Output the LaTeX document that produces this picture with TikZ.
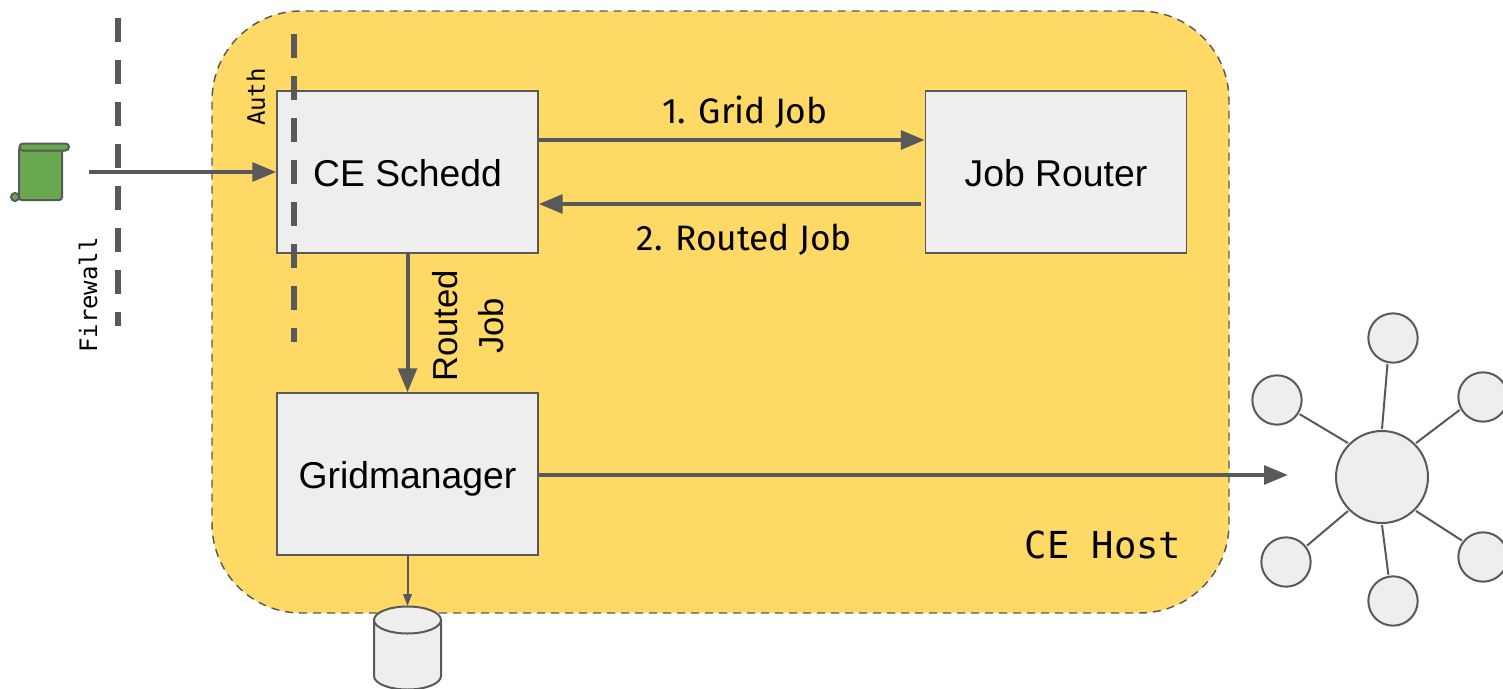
\documentclass[tikz,border=0pt]{standalone}
\usepackage{fontspec}
\usepackage{tikz}
\setmainfont{Liberation Sans}
\newfontfamily\labelfont{Fira Sans}
\newfontfamily\codefont{DejaVu Sans Mono}
\usetikzlibrary{arrows.meta}

\definecolor{hostyellow}{HTML}{FFD966}
\definecolor{boxgrey}{HTML}{EEEEEE}
\definecolor{linegrey}{HTML}{595959}
\definecolor{scrollgreen}{HTML}{6AA84F}

\tikzset{
	host/.style={draw=linegrey, fill=hostyellow, line width=1.1pt, dash pattern=on 6pt off 4.5pt, rounded corners=67pt, minimum width=762.75pt, minimum height=451.5pt, inner sep=0pt},
	daemon/.style={draw=linegrey, fill=boxgrey, line width=1.1pt, minimum width=195.75pt, minimum height=121.5pt, inner sep=0pt, text height=24pt, text depth=3pt, font=\fontsize{28pt}{32pt}\selectfont},
	hubnode/.style={circle, draw=linegrey, fill=boxgrey, line width=1.5pt, minimum size=69pt, inner sep=0pt, outer sep=1.5pt},
	satnode/.style={circle, draw=linegrey, fill=boxgrey, line width=1.5pt, minimum size=37pt, inner sep=0pt, outer sep=1.5pt},
	flow/.style={draw=linegrey, line width=3pt, -{Triangle[length=18pt, width=14pt]}},
	thinflow/.style={draw=linegrey, line width=1.5pt, -{Triangle[length=9pt, width=6.5pt]}},
	spoke/.style={draw=linegrey, line width=1.5pt},
	barrier/.style={draw=linegrey, line width=4.5pt, dash pattern=on 18pt off 13.5pt},
	scrollpart/.style={draw=linegrey, fill=scrollgreen, line width=1.5pt},
	flowlabel/.style={font=\labelfont\fontsize{26.5pt}{30pt}\selectfont},
	codelabel/.style={font=\codefont\fontsize{18pt}{20pt}\selectfont, rotate=90}
}

\begin{document}
\begin{tikzpicture}[x=0.75pt, y=-0.75pt]
\useasboundingbox (0,0) rectangle (1503,689);

\node[host] (host) at (720.5,312) {};
\node[font=\codefont\fontsize{27.9pt}{32pt}\selectfont] (hostlabel) at (1103,545) {CE Host};

\node[daemon] (schedd) at (407.5,172) {CE Schedd};
\node[daemon] (router) at (1056,172) {Job Router};
\node[daemon] (gridman) at (407.5,474) {Gridmanager};

% firewall and auth lines
\coordinate (fwtop) at (118,18);
\coordinate (fwbot) at (118,326);
\coordinate (authtop) at (294,34);
\coordinate (authbot) at (294,342);
\draw[barrier] (fwtop) -- (fwbot);
\draw[barrier] (authtop) -- (authbot);
\node[codelabel] (fwlabel) at (88,295) {Firewall};
\node[codelabel] (authlabel) at (256,97) {Auth};

% job scroll
\coordinate (scroll) at (89,172);
\draw[scrollpart, rounded corners=2pt] (19,147) -- (19,200) -- (62,200) -- (62,148) -- cycle;
\draw[scrollpart] (23,143.5) -- (65.5,143.5) arc (-90:90:3.5) -- (23,150.5) arc (90:270:3.5) -- cycle;
\draw[scrollpart] (15,197) circle (4);

\draw[flow] (scroll) -- (schedd.west);
\draw[flow] ([yshift=24pt]schedd.east) -- node[flowlabel, above=4pt, xshift=10pt] (gridjob) {1. Grid Job} ([yshift=24pt]router.west);
\draw[flow] ([yshift=-24pt, xshift=-3pt]router.west) -- node[flowlabel, below=10.5pt, xshift=11pt] (routedjob) {2. Routed Job} ([yshift=-24pt]schedd.east);
\draw[flow] (schedd.south) -- (gridman.north);
\node[font=\fontsize{26pt}{34.5pt}\selectfont, rotate=90, align=center] (routedlabel) at (468,326) {Routed\\Job};

% output to the grid
\node[hubnode] (hub) at (1382,477) {};
\foreach \name/\x/\y in {top/1393/338, upleft/1277/400, upright/1483/397, lowleft/1286/562, low/1393/601, lowright/1483/557}
	\node[satnode] (\name) at (\x,\y) {};
\foreach \name/\a/\b in {top/90/258, upleft/135/-32, upright/45/209, lowleft/225/38, low/270/100, lowright/315/142}
	\draw[spoke] (hub.\a) -- (\name.\b);
\coordinate (gridin) at (1288,475);
\draw[flow] (gridman.east |- gridin) -- (gridin);

% local storage
\coordinate (dbtop) at (407.5,606);
\draw[draw=linegrey, fill=boxgrey, line width=1.5pt] (374,620) -- (374,676) arc[start angle=180, end angle=0, x radius=33.5, y radius=13.5] -- (441,620);
\draw[draw=linegrey, fill=boxgrey, line width=1.5pt] (407.5,620) ellipse [x radius=33.5, y radius=13.5];
\draw[thinflow] (gridman.south) -- (dbtop);
\end{tikzpicture}
\end{document}
